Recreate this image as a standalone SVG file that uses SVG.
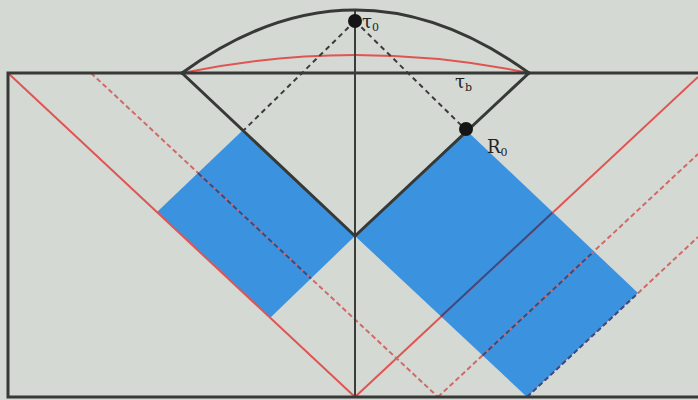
<svg xmlns="http://www.w3.org/2000/svg" width="698" height="400" viewBox="0 0 698 400">
  <style>
    .frame{fill:none;stroke:#363936;stroke-width:3;stroke-linecap:square}
    .red{fill:none;stroke:#e05452;stroke-width:2}
    .reddash{fill:none;stroke:#cf6a68;stroke-width:2;stroke-dasharray:5 3}
    .blackdash{fill:none;stroke:#3a3a3a;stroke-width:2;stroke-dasharray:5 4}
    .inner{fill:none;stroke:#2f4f8c;stroke-width:2}
    .innerdash{fill:none;stroke:#2f4f8c;stroke-width:2;stroke-dasharray:5 3}
    .blue{fill:#3b93e0}
    .dot{fill:#151515}
    .lbl{font-family:"DejaVu Serif","Liberation Serif",serif;font-size:18px;fill:#222}
  </style>
  <rect width="698" height="400" fill="#d5d9d4"/>

  <g id="regions">
    <polygon id="blue-left" class="blue" points="242,131 355,236 270,318 157,212"/>
    <polygon id="blue-right" class="blue" points="355,236 466,130 638,293 527,397"/>
  </g>

  <g id="connectors">
    <line class="red" x1="8" y1="73" x2="355" y2="397"/>
    <line class="red" x1="355" y1="397" x2="698" y2="77"/>
    <line class="reddash" x1="91" y1="73" x2="438" y2="397"/>
    <line class="reddash" x1="438" y1="397" x2="698" y2="154"/>
    <line class="reddash" x1="527" y1="397" x2="698" y2="237"/>
    <line class="innerdash" x1="198" y1="173" x2="311" y2="278.5"/>
    <line class="innerdash" x1="482.6" y1="355.4" x2="593.7" y2="251.6"/>
    <line class="inner" x1="441" y1="316.6" x2="552.3" y2="212.7"/>
    <line class="innerdash" x1="527" y1="397" x2="638" y2="293"/>
    <path class="red" d="M182,73 Q355,37 529,73"/>
    <line class="blackdash" x1="355" y1="21" x2="244" y2="130"/>
    <line class="blackdash" x1="355" y1="21" x2="466" y2="130"/>
  </g>

  <g id="frame">
    <polyline class="frame" points="698,73 8,73 8,397 698,397"/>
    <line x1="355" y1="11" x2="355" y2="397" stroke="#3a3d3a" stroke-width="2"/>
    <polyline class="frame" points="182,73 355,236 529,73"/>
    <path class="frame" d="M182,73 Q355,-53 529,73"/>
  </g>

  <g id="tau0">
    <circle class="dot" cx="355" cy="21" r="7"/>
    <text class="lbl" x="362" y="28">τ<tspan font-size="11" dy="3">0</tspan></text>
  </g>
  <g id="taub">
    <text class="lbl" x="455" y="88">τ<tspan font-size="11" dy="3">b</tspan></text>
  </g>
  <g id="R0">
    <circle class="dot" cx="466" cy="129" r="7"/>
    <text class="lbl" x="487" y="153">R<tspan font-size="11" dy="3">0</tspan></text>
  </g>
</svg>
